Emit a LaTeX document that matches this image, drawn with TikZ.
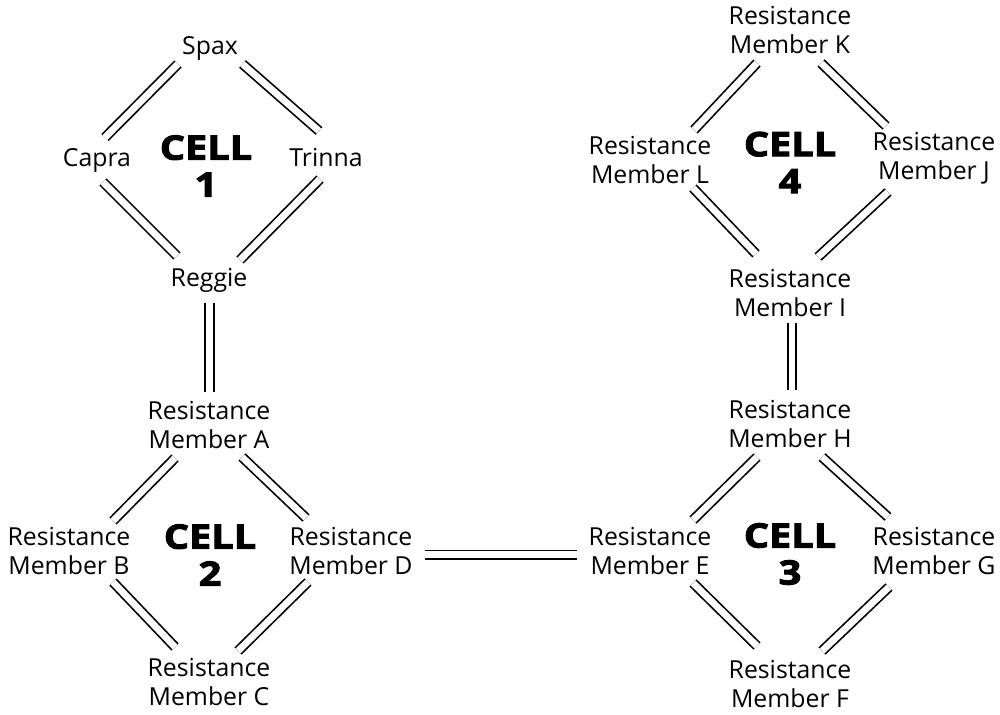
\documentclass[tikz,border=0pt]{standalone}
\usepackage{fontspec}
\setmainfont{Open Sans}
\newfontfamily\cellfont{Open Sans}[FakeStretch=1.18, BoldFeatures={FakeBold=3}]
\usetikzlibrary{calc}
\begin{document}
\begin{tikzpicture}[x=0.5pt,y=-0.5pt,
  lbl/.style={inner sep=0pt, align=center, font=\fontsize{12.4}{14.5}\selectfont},
  one/.style={inner sep=0pt, anchor=base, font=\fontsize{12.4}{14.5}\selectfont},
  celltxt/.style={inner sep=0pt, align=center, font=\cellfont\bfseries\fontsize{16.8}{18.5}\selectfont},
  dbl/.style={draw=black, line width=0.85pt, double=white, double distance=3.4pt}]
\useasboundingbox (0,0) rectangle (1000,715);
% Cell 1
\node[one] (spax) at (210,55) {Spax};
\node[one] (capra) at (97,167) {Capra};
\node[one] (trinna) at (326,167) {Trinna};
\node[one] (reggie) at (209,287) {Reggie};
\node[celltxt] (c1) at (206,166) {CELL\\1};
% Cell 2
\node[lbl] (A) at (209,425) {Resistance\\Member A};
\node[lbl] (B) at (69,551.5) {Resistance\\Member B};
\node[lbl] (D) at (351,551) {Resistance\\Member D};
\node[lbl] (C) at (209,682) {Resistance\\Member C};
\node[celltxt] (c2) at (210,555) {CELL\\2};
% Cell 3
\node[lbl] (H) at (790,424.5) {Resistance\\Member H};
\node[lbl] (E) at (650,551.5) {Resistance\\Member E};
\node[lbl] (G) at (934,551) {Resistance\\Member G};
\node[lbl] (F) at (790,684) {Resistance\\Member F};
\node[celltxt] (c3) at (790,554) {CELL\\3};
% Cell 4
\node[lbl] (K) at (790,30) {Resistance\\Member K};
\node[lbl] (L) at (650,160) {Resistance\\Member L};
\node[lbl] (J) at (934,158.5) {Resistance\\Member J};
\node[lbl] (I) at (790,293) {Resistance\\Member I};
\node[celltxt] (c4) at (790,162.5) {CELL\\4};
% Connectors cell 1
\draw[dbl] ($(spax.base)+(-32,9)$) -- ($(capra.base)+(8,-29.5)$);
\draw[dbl] ($(spax.base)+(32.5,9)$) -- ($(trinna.base)+(-7,-36)$);
\draw[dbl] ($(capra.base)+(6,15)$) -- ($(reggie.base)+(-32,-31)$);
\draw[dbl] ($(trinna.base)+(-6,12)$) -- ($(reggie.base)+(31,-27)$);
\draw[dbl] ($(reggie.base)+(0.5,16)$) -- ($(A.center)+(0.5,-33)$);
% Cell 2
\draw[dbl] ($(A.center)+(-34,33)$) -- ($(B.center)+(44,-30.5)$);
\draw[dbl] ($(A.center)+(33,32)$) -- ($(D.center)+(-45,-33)$);
\draw[dbl] ($(B.center)+(44,30.5)$) -- ($(C.center)+(-34,-35)$);
\draw[dbl] ($(D.center)+(-43,31)$) -- ($(C.center)+(29,-31)$);
\draw[dbl] ($(D.center)+(74,3.7)$) -- ($(E.center)+(-73,3.2)$);
% Cell 3
\draw[dbl] ($(H.center)+(-33,32.5)$) -- ($(E.center)+(43,-31.5)$);
\draw[dbl] ($(H.center)+(32,32.5)$) -- ($(G.center)+(-46,-34)$);
\draw[dbl] ($(E.center)+(43,31.5)$) -- ($(F.center)+(-33,-38)$);
\draw[dbl] ($(G.center)+(-45,36)$) -- ($(F.center)+(32,-33)$);
\draw[dbl] ($(I.center)+(2,30)$) -- ($(H.center)+(2,-34.5)$);
% Cell 4
\draw[dbl] ($(K.center)+(-33,33)$) -- ($(L.center)+(44,-30)$);
\draw[dbl] ($(K.center)+(31,33)$) -- ($(J.center)+(-48,-32.5)$);
\draw[dbl] ($(L.center)+(43,28)$) -- ($(I.center)+(-34,-39)$);
\draw[dbl] ($(J.center)+(-46,33.5)$) -- ($(I.center)+(28,-36)$);
\end{tikzpicture}
\end{document}
